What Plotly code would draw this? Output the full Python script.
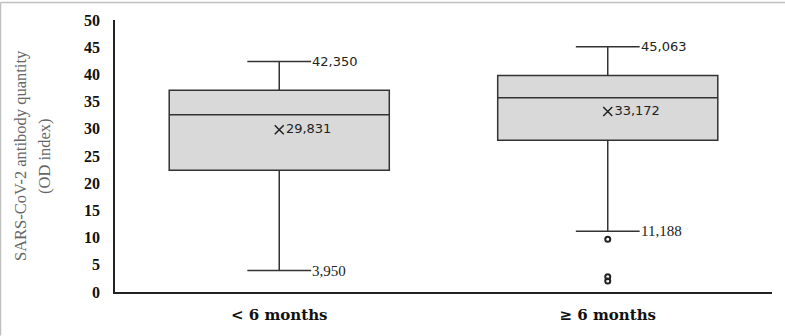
import plotly.graph_objects as go

categories = ["< 6 months", "≥ 6 months"]
q1 = [22.4, 27.9]
median = [32.6, 35.7]
q3 = [37.1, 39.8]
lower = [3.950, 11.188]
upper = [42.350, 45.063]
means = [29.831, 33.172]
mean_labels = ["29,831", "33,172"]
upper_labels = ["42,350", "45,063"]
lower_labels = ["3,950", "11,188"]
outlier_x = ["≥ 6 months", "≥ 6 months", "≥ 6 months"]
outlier_y = [9.7, 2.8, 2.0]

fig = go.Figure()
fig.add_trace(go.Box(
    x=categories, q1=q1, median=median, q3=q3,
    lowerfence=lower, upperfence=upper,
    width=0.67, whiskerwidth=0.29,
    fillcolor="#d9d9d9", line=dict(color="#333333", width=1.5),
    boxpoints=False, showlegend=False, hoverinfo="skip",
))
fig.add_trace(go.Scatter(
    x=categories, y=means, mode="markers+text",
    marker=dict(symbol="x-thin", size=9, color="#222222", line=dict(color="#222222", width=1.5)),
    text=mean_labels, textposition="middle right",
    textfont=dict(family="DejaVu Sans", size=13, color="#222222"),
    showlegend=False, hoverinfo="skip",
))
fig.add_trace(go.Scatter(
    x=outlier_x, y=outlier_y, mode="markers",
    marker=dict(symbol="circle-open", size=5, color="#222222", line=dict(color="#222222", width=2)),
    showlegend=False, hoverinfo="skip",
))

annotations = []
for c, v, t in zip(categories, upper, upper_labels):
    annotations.append(dict(x=c, y=v, text=t, showarrow=False, xanchor="left", xshift=31,
                            font=dict(family="DejaVu Sans", size=13, color="#222222")))
for c, v, t in zip(categories, lower, lower_labels):
    annotations.append(dict(x=c, y=v, text=t, showarrow=False, xanchor="left", xshift=31,
                            font=dict(family="Liberation Serif", size=15, color="#222222")))
annotations.append(dict(xref="paper", yref="paper", x=0, y=0.5, xshift=-95, text="SARS-CoV-2 antibody quantity",
                        textangle=-90, showarrow=False, xanchor="center", yanchor="middle",
                        font=dict(family="Liberation Serif", size=16.5, color="#666666")))
annotations.append(dict(xref="paper", yref="paper", x=0, y=0.5, xshift=-71, text="(OD index)",
                        textangle=-90, showarrow=False, xanchor="center", yanchor="middle",
                        font=dict(family="Liberation Serif", size=16.5, color="#666666")))

fig.update_layout(
    width=785, height=336,
    margin=dict(l=115, r=13, t=18, b=42),
    paper_bgcolor="white", plot_bgcolor="white",
    annotations=annotations,
    shapes=[
        dict(type="line", xref="paper", yref="paper", x0=-0.1743, x1=1.02, y0=1.064, y1=1.064,
             line=dict(color="#c0c0c0", width=1.5)),
        dict(type="line", xref="paper", yref="paper", x0=-0.1743, x1=-0.1743, y0=-0.16, y1=1.064,
             line=dict(color="#c0c0c0", width=1.5)),
    ],
)
fig.update_xaxes(
    showline=True, linecolor="#222222", linewidth=2, showgrid=False, zeroline=False,
    ticks="outside", ticklen=8, tickcolor="rgba(0,0,0,0)",
    tickfont=dict(family="DejaVu Serif", size=15, color="#111111", weight="bold"),
    range=[-0.5, 1.5],
)
fig.update_yaxes(
    range=[0, 50], dtick=5, showline=True, linecolor="#222222", linewidth=1.5,
    showgrid=False, zeroline=False,
    ticks="outside", ticklen=10, tickcolor="rgba(0,0,0,0)",
    tickfont=dict(family="Liberation Serif", size=16, color="#111111", weight="bold"),
)
fig.write_html("out.html")
